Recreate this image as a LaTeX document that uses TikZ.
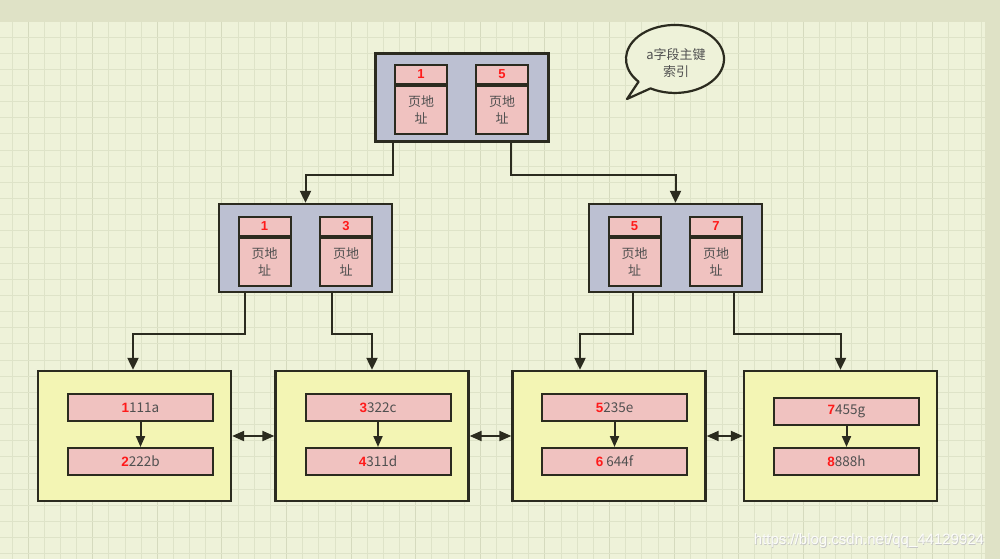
\documentclass[tikz,border=0pt]{standalone}
\usepackage{fontspec}
\setmainfont{Noto Sans CJK SC}
\newfontfamily\digf{Liberation Sans}
\newfontfamily\wmf{Liberation Sans}
\usetikzlibrary{arrows.meta}
\definecolor{band}{HTML}{DFE2C6}
\definecolor{gridbg}{HTML}{EEF2D9}
\definecolor{gridmin}{HTML}{DEE3C8}
\definecolor{gridmaj}{HTML}{D5DABE}
\definecolor{edge}{HTML}{2B2B1F}
\definecolor{bluebox}{HTML}{BCC0D2}
\definecolor{pinkc}{HTML}{F0C2C0}
\definecolor{leafc}{HTML}{F3F5B4}
\definecolor{txt}{HTML}{505050}
\definecolor{redt}{HTML}{FF1A1A}
\tikzset{
  outerbox/.style={draw=edge, line width=2.3pt, fill=bluebox, minimum width=173pt, minimum height=88pt, inner sep=0pt},
  leafbox/.style={draw=edge, line width=2.3pt, fill=leafc, minimum width=193pt, minimum height=130pt, inner sep=0pt},
  chead/.style={draw=edge, line width=2pt, fill=pinkc, minimum width=52pt, minimum height=19pt, inner sep=0pt, text=redt, font=\digf\bfseries\fontsize{13}{15}\selectfont},
  cbody/.style={draw=edge, line width=2pt, fill=pinkc, minimum width=52pt, minimum height=48pt, inner sep=0pt, text=txt, align=center, font=\fontsize{13}{17}\selectfont},
  rec/.style={draw=edge, line width=2pt, fill=pinkc, minimum width=145pt, minimum height=27pt, inner sep=0pt, text=txt, font=\fontsize{13.5}{15}\selectfont},
  conn/.style={draw=edge, line width=2pt, -{Triangle[width=11pt,length=12pt]}},
  sconn/.style={draw=edge, line width=2pt, -{Triangle[width=9pt,length=11pt]}},
  dbl/.style={draw=edge, line width=2pt, {Triangle[width=10pt,length=12pt]}-{Triangle[width=10pt,length=12pt]}},
}
\newcommand\mkcell[4]{%
  \node[chead] (#1h) at (#2,#3) {#4};
  \node[cbody, anchor=north] (#1b) at (#1h.south) {页地\\址};
}
\newcommand\rd[1]{{\digf\bfseries\color{redt}#1}}
\begin{document}
\begin{tikzpicture}[x=1pt,y=-1pt]
\useasboundingbox (0,0) rectangle (1000,559);
% background
\fill[band] (0,0) rectangle (1000,559);
\fill[gridbg] (0,22) rectangle (985,559);
\foreach \i in {0,...,60} {
  \pgfmathtruncatemacro{\m}{mod(\i,4)}
  \ifnum\m=1
    \draw[gridmaj, line width=1pt] ({12+16.15*\i},22) -- ({12+16.15*\i},559);
  \else
    \draw[gridmin, line width=0.9pt] ({12+16.15*\i},22) -- ({12+16.15*\i},559);
  \fi
}
\foreach \j in {0,...,32} {
  \draw[gridmin, line width=0.9pt] (0,{37+16.15*\j}) -- (985,{37+16.15*\j});
}
% root
\node[outerbox] (root) at (462,97.5) {};
\mkcell{ra}{421}{74.5}{1}
\mkcell{rb}{502}{74.5}{5}
% mid
\node[outerbox] (midL) at (305.5,248) {};
\mkcell{la}{264.5}{226}{1}
\mkcell{lb}{346}{226}{3}
\node[outerbox] (midR) at (675.5,248) {};
\mkcell{ma}{634.5}{226}{5}
\mkcell{mb}{716}{226}{7}
% leaves
\node[leafbox] (leaf1) at (134.5,436) {};
\node[leafbox] (leaf2) at (372,436) {};
\node[leafbox] (leaf3) at (609,436) {};
\node[leafbox] (leaf4) at (840.5,436) {};
\node[rec] (a1) at (140.5,407.5) {\rd{1}111a};
\node[rec] (a2) at (140.5,461.5) {\rd{2}222b};
\node[rec] (b1) at (378,407.5) {\rd{3}322c};
\node[rec] (b2) at (378,461.5) {\rd{4}311d};
\node[rec] (c1) at (614.5,407.5) {\rd{5}235e};
\node[rec] (c2) at (614.5,461.5) {\rd{6} 644f};
\node[rec] (d1) at (846.5,411.5) {\rd{7}455g};
\node[rec] (d2) at (846.5,461.5) {\rd{8}888h};
\draw[sconn] (a1.south) -- (a2.north);
\draw[sconn] (b1.south) -- (b2.north);
\draw[sconn] (c1.south) -- (c2.north);
\draw[sconn] (d1.south) -- (d2.north);
% connectors
\draw[conn] ([xshift=19pt]root.south west) -- ++(0,32) -| (midL.north);
\draw[conn] ([xshift=137pt]root.south west) -- ++(0,32) -| (midR.north);
\draw[conn] ([xshift=27pt]midL.south west) -- ++(0,41) -| ([xshift=-1.5pt]leaf1.north);
\draw[conn] ([xshift=114pt]midL.south west) -- ++(0,41) -| (leaf2.north);
\draw[conn] ([xshift=45pt]midR.south west) -- ++(0,41) -| ([xshift=-29pt]leaf3.north);
\draw[conn] ([xshift=146pt]midR.south west) -- ++(0,41) -| (leaf4.north);
\draw[dbl] (leaf1.east) -- (leaf2.west);
\draw[dbl] (leaf2.east) -- (leaf3.west);
\draw[dbl] (leaf3.east) -- (leaf4.west);
% callout
\coordinate (tb1) at (638.6,81.7);
\coordinate (tip) at (627,99);
\coordinate (tb2) at (650.5,88.4);
\draw[edge, line width=2.2pt, fill=gridbg, line join=round]
  (tb1) -- (tip) -- (tb2)
  arc[start angle=120, end angle=-222, x radius=49, y radius=34] -- cycle;
\node[text=txt, align=center, font=\fontsize{13}{17}\selectfont] (bubble) at (676,63) {a字段主键\\索引};
% watermark
\node[text=gray!45, font=\wmf\fontsize{15}{17}\selectfont] (wm0) at (869.6,541.6) {https://blog.csdn.net/qq\_44129924};
\node[text=white, opacity=0.9, font=\wmf\fontsize{15}{17}\selectfont] (wm) at (869,541) {https://blog.csdn.net/qq\_44129924};
\end{tikzpicture}
\end{document}
